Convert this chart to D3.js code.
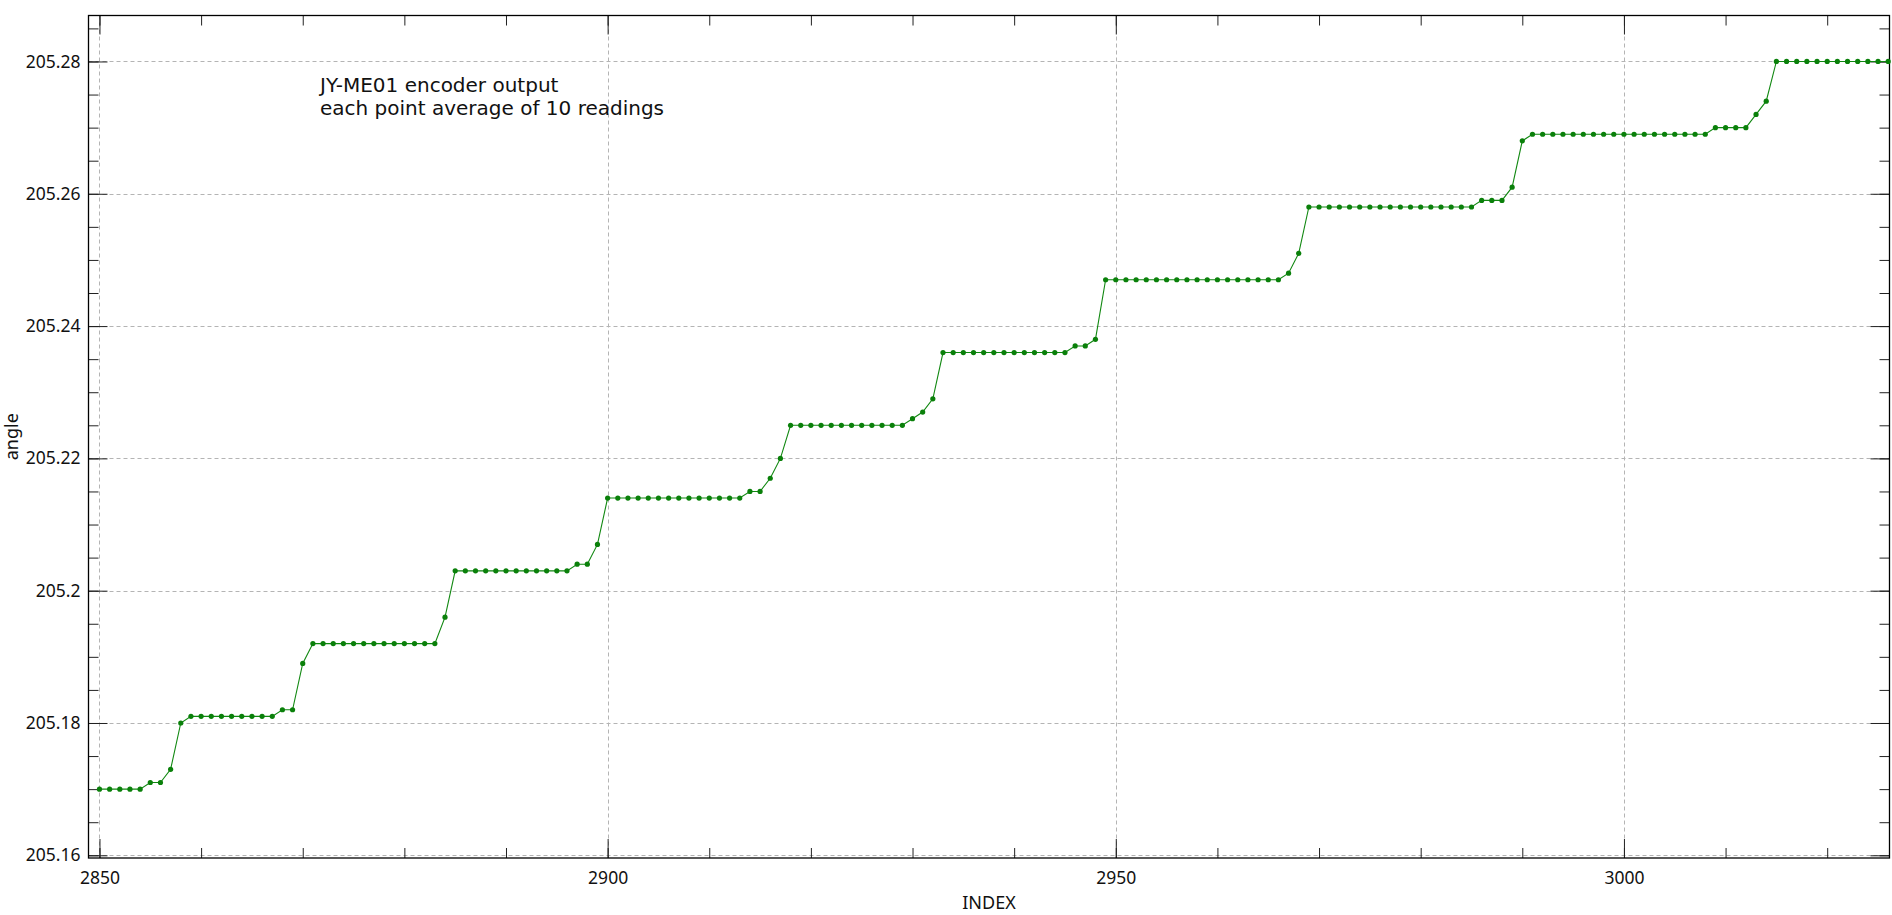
<!DOCTYPE html>
<html>
<head>
<meta charset="utf-8">
<script src="https://cdn.jsdelivr.net/npm/d3@7"></script>
<style>
  html, body { margin: 0; padding: 0; background: #fff; }
  svg { display: block; }
</style>
</head>
<body>
<svg id="chart" width="1892" height="915"></svg>
<script>
// ---------------- data ----------------
const indices = [
  2850,2851,2852,2853,2854,2855,2856,2857,2858,2859,
  2860,2861,2862,2863,2864,2865,2866,2867,2868,2869,
  2870,2871,2872,2873,2874,2875,2876,2877,2878,2879,
  2880,2881,2882,2883,2884,2885,2886,2887,2888,2889,
  2890,2891,2892,2893,2894,2895,2896,2897,2898,2899,
  2900,2901,2902,2903,2904,2905,2906,2907,2908,2909,
  2910,2911,2912,2913,2914,2915,2916,2917,2918,2919,
  2920,2921,2922,2923,2924,2925,2926,2927,2928,2929,
  2930,2931,2932,2933,2934,2935,2936,2937,2938,2939,
  2940,2941,2942,2943,2944,2945,2946,2947,2948,2949,
  2950,2951,2952,2953,2954,2955,2956,2957,2958,2959,
  2960,2961,2962,2963,2964,2965,2966,2967,2968,2969,
  2970,2971,2972,2973,2974,2975,2976,2977,2978,2979,
  2980,2981,2982,2983,2984,2985,2986,2987,2988,2989,
  2990,2991,2992,2993,2994,2995,2996,2997,2998,2999,
  3000,3001,3002,3003,3004,3005,3006,3007,3008,3009,
  3010,3011,3012,3013,3014,3015,3016,3017,3018,3019,
  3020,3021,3022,3023,3024,3025,3026
];
const angles = [
  // 2850-2859
  205.170,205.170,205.170,205.170,205.170,205.171,205.171,205.173,205.180,205.181,
  // 2860-2869
  205.181,205.181,205.181,205.181,205.181,205.181,205.181,205.181,205.182,205.182,
  // 2870-2879
  205.189,205.192,205.192,205.192,205.192,205.192,205.192,205.192,205.192,205.192,
  // 2880-2889
  205.192,205.192,205.192,205.192,205.196,205.203,205.203,205.203,205.203,205.203,
  // 2890-2899
  205.203,205.203,205.203,205.203,205.203,205.203,205.203,205.204,205.204,205.207,
  // 2900-2909
  205.214,205.214,205.214,205.214,205.214,205.214,205.214,205.214,205.214,205.214,
  // 2910-2919
  205.214,205.214,205.214,205.214,205.215,205.215,205.217,205.220,205.225,205.225,
  // 2920-2929
  205.225,205.225,205.225,205.225,205.225,205.225,205.225,205.225,205.225,205.225,
  // 2930-2939
  205.226,205.227,205.229,205.236,205.236,205.236,205.236,205.236,205.236,205.236,
  // 2940-2949
  205.236,205.236,205.236,205.236,205.236,205.236,205.237,205.237,205.238,205.247,
  // 2950-2959
  205.247,205.247,205.247,205.247,205.247,205.247,205.247,205.247,205.247,205.247,
  // 2960-2969
  205.247,205.247,205.247,205.247,205.247,205.247,205.247,205.248,205.251,205.258,
  // 2970-2979
  205.258,205.258,205.258,205.258,205.258,205.258,205.258,205.258,205.258,205.258,
  // 2980-2989
  205.258,205.258,205.258,205.258,205.258,205.258,205.259,205.259,205.259,205.261,
  // 2990-2999
  205.268,205.269,205.269,205.269,205.269,205.269,205.269,205.269,205.269,205.269,
  // 3000-3009
  205.269,205.269,205.269,205.269,205.269,205.269,205.269,205.269,205.269,205.270,
  // 3010-3019
  205.270,205.270,205.270,205.272,205.274,205.280,205.280,205.280,205.280,205.280,
  // 3020-3026
  205.280,205.280,205.280,205.280,205.280,205.280,205.280
];
const xTickValues = [2850, 2900, 2950, 3000];
const xTickLabels = ["2850", "2900", "2950", "3000"];
const xMinorTicks = [2850,2860,2870,2880,2890,2900,2910,2920,2930,2940,2950,2960,2970,2980,2990,3000,3010,3020];
const yTickValues = [205.16, 205.18, 205.20, 205.22, 205.24, 205.26, 205.28];
const yTickLabels = ["205.16", "205.18", "205.2", "205.22", "205.24", "205.26", "205.28"];
const yMinorTicks = [205.160,205.165,205.170,205.175,205.180,205.185,205.190,205.195,205.200,205.205,
                     205.210,205.215,205.220,205.225,205.230,205.235,205.240,205.245,205.250,205.255,
                     205.260,205.265,205.270,205.275,205.280,205.285];
const xDomain = [2848.92, 3026.13];
const yDomain = [205.15959, 205.28695];
const annotationLines = ["JY-ME01 encoder output", "each point average of 10 readings"];
const xTitle = "INDEX";
const yTitle = "angle";

(function () {
// ---------------- layout ----------------
const pLeft = 88.5, pRight = 1889.5, pTop = 15.5, pBottom = 858;
const svg = d3.select("#chart");
const font = "'Noto Sans', sans-serif";

const x = d3.scaleLinear().domain(xDomain).range([pLeft, pRight]);
const y = d3.scaleLinear().domain(yDomain).range([pBottom, pTop]);

// grid
const grid = svg.append("g").attr("stroke", "#b4b4b4").attr("stroke-width", 1)
  .attr("stroke-dasharray", "4,3");
grid.selectAll("line.gx").data(xTickValues).join("line").attr("class", "gx")
  .attr("x1", d => Math.round(x(d)) + 0.5).attr("x2", d => Math.round(x(d)) + 0.5)
  .attr("y1", pTop).attr("y2", pBottom);
grid.selectAll("line.gy").data(yTickValues).join("line").attr("class", "gy")
  .attr("y1", d => Math.round(y(d)) + 0.5).attr("y2", d => Math.round(y(d)) + 0.5)
  .attr("x1", pLeft).attr("x2", pRight);

function styleAxis(g) {
  g.select(".domain").remove();
  g.selectAll(".tick line").attr("stroke", "#222").attr("stroke-width", 1);
  g.selectAll("text").attr("font-family", font).attr("font-size", 17.5).attr("fill", "#111");
}

const MAJ = 19, MIN = 10;
// bottom
svg.append("g").attr("transform", `translate(0,${pBottom})`)
  .call(d3.axisBottom(x).tickValues(xMinorTicks).tickSize(-MIN).tickFormat(""))
  .call(styleAxis);
svg.append("g").attr("transform", `translate(0,${pBottom})`)
  .call(d3.axisBottom(x).tickValues(xTickValues).tickSize(-MAJ).tickPadding(14)
    .tickFormat((d, i) => xTickLabels[i]))
  .call(styleAxis);
// top
svg.append("g").attr("transform", `translate(0,${pTop})`)
  .call(d3.axisTop(x).tickValues(xMinorTicks).tickSize(-MIN).tickFormat(""))
  .call(styleAxis);
svg.append("g").attr("transform", `translate(0,${pTop})`)
  .call(d3.axisTop(x).tickValues(xTickValues).tickSize(-MAJ).tickFormat(""))
  .call(styleAxis);
// left
svg.append("g").attr("transform", `translate(${pLeft},0)`)
  .call(d3.axisLeft(y).tickValues(yMinorTicks).tickSize(-MIN).tickFormat(""))
  .call(styleAxis);
svg.append("g").attr("transform", `translate(${pLeft},0)`)
  .call(d3.axisLeft(y).tickValues(yTickValues).tickSize(-MAJ).tickPadding(8)
    .tickFormat((d, i) => yTickLabels[i]))
  .call(styleAxis);
// right
svg.append("g").attr("transform", `translate(${pRight},0)`)
  .call(d3.axisRight(y).tickValues(yMinorTicks).tickSize(-MIN).tickFormat(""))
  .call(styleAxis);
svg.append("g").attr("transform", `translate(${pRight},0)`)
  .call(d3.axisRight(y).tickValues(yTickValues).tickSize(-MAJ).tickFormat(""))
  .call(styleAxis);

// frame
svg.append("rect").attr("x", pLeft).attr("y", pTop)
  .attr("width", pRight - pLeft).attr("height", pBottom - pTop)
  .attr("fill", "none").attr("stroke", "#000").attr("stroke-width", 1.3);

// data
const data = indices.map((d, i) => ({ i: d, v: angles[i] }));
const line = d3.line().x(d => x(d.i)).y(d => y(d.v));
svg.append("path").datum(data).attr("d", line)
  .attr("fill", "none").attr("stroke", "#118811").attr("stroke-width", 1.1);
svg.append("g").selectAll("circle").data(data).join("circle")
  .attr("cx", d => x(d.i)).attr("cy", d => y(d.v)).attr("r", 2.6)
  .attr("fill", "#0a800a");

// titles
svg.append("text").attr("x", (pLeft + pRight) / 2).attr("y", 909)
  .attr("text-anchor", "middle").attr("font-family", font).attr("font-size", 18)
  .attr("fill", "#111").text(xTitle);
svg.append("text").attr("transform", `translate(18,${(pTop + pBottom) / 2}) rotate(-90)`)
  .attr("text-anchor", "middle").attr("font-family", font).attr("font-size", 18)
  .attr("fill", "#111").text(yTitle);

// annotation
svg.append("g").selectAll("text").data(annotationLines).join("text")
  .attr("x", 320).attr("y", (d, i) => 92 + i * 23)
  .attr("font-family", "'DejaVu Sans', sans-serif").attr("font-size", 20)
  .attr("fill", "#111").text(d => d);
})();
</script>
</body>
</html>
